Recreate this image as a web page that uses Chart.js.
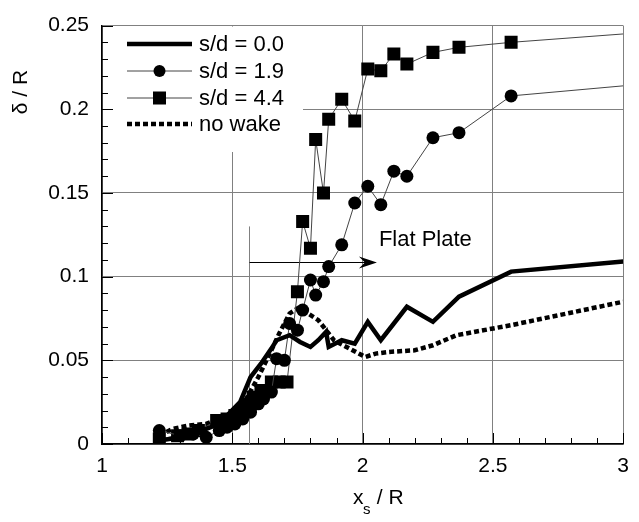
<!DOCTYPE html>
<html>
<head>
<meta charset="utf-8">
<script src="https://cdn.jsdelivr.net/npm/chart.js@4"></script>
<style>
  body { margin: 0; background: #fff; }
  canvas { display: block; }
</style>
</head>
<body>
<canvas id="bl" width="639" height="522"></canvas>
<script>
// s/d = 0.0 (thick solid line)
const sd00X = [1.22, 1.30, 1.35, 1.40, 1.45, 1.48, 1.53, 1.57, 1.61, 1.65, 1.67, 1.72, 1.76, 1.80, 1.83, 1.86, 1.87, 1.92, 1.97, 2.02, 2.07, 2.17, 2.27, 2.37, 2.57, 3.00];
const sd00Y = [0.002, 0.004, 0.006, 0.009, 0.012, 0.017, 0.025, 0.040, 0.048, 0.057, 0.062, 0.065, 0.061, 0.058, 0.062, 0.067, 0.058, 0.062, 0.060, 0.073, 0.062, 0.082, 0.073, 0.088, 0.103, 0.109];

// s/d = 1.9 (circles)
const sd19X = [1.22, 1.30, 1.35, 1.40, 1.45, 1.48, 1.51, 1.54, 1.57, 1.60, 1.62, 1.65, 1.67, 1.70, 1.72, 1.75, 1.77, 1.80, 1.82, 1.85, 1.87, 1.92, 1.97, 2.02, 2.07, 2.12, 2.17, 2.27, 2.37, 2.57, 3.00];
const sd19Y = [0.008, 0.005, 0.006, 0.004, 0.008, 0.010, 0.012, 0.015, 0.019, 0.024, 0.027, 0.031, 0.051, 0.050, 0.072, 0.068, 0.080, 0.098, 0.089, 0.097, 0.106, 0.119, 0.144, 0.154, 0.143, 0.163, 0.160, 0.183, 0.186, 0.208, 0.214];

// s/d = 4.4 (squares)
const sd44X = [1.22, 1.29, 1.33, 1.37, 1.44, 1.48, 1.51, 1.54, 1.56, 1.58, 1.61, 1.65, 1.68, 1.71, 1.75, 1.77, 1.80, 1.82, 1.85, 1.87, 1.92, 1.97, 2.02, 2.07, 2.12, 2.17, 2.27, 2.37, 2.57, 3.00];
const sd44Y = [0.003, 0.005, 0.006, 0.008, 0.014, 0.015, 0.017, 0.020, 0.023, 0.028, 0.032, 0.037, 0.037, 0.037, 0.091, 0.133, 0.117, 0.182, 0.150, 0.194, 0.206, 0.193, 0.224, 0.223, 0.233, 0.227, 0.234, 0.237, 0.240, 0.245];

// no wake (dotted)
const noWakeX = [1.22, 1.27, 1.33, 1.40, 1.45, 1.50, 1.55, 1.60, 1.65, 1.68, 1.72, 1.75, 1.79, 1.83, 1.86, 1.89, 1.95, 2.01, 2.05, 2.10, 2.20, 2.27, 2.36, 2.57, 3.00];
const noWakeY = [0.005, 0.009, 0.011, 0.012, 0.015, 0.018, 0.026, 0.040, 0.056, 0.066, 0.078, 0.081, 0.078, 0.074, 0.068, 0.062, 0.057, 0.052, 0.054, 0.055, 0.056, 0.059, 0.065, 0.071, 0.085];

const seriesLabels = ['s/d = 0.0', 's/d = 1.9', 's/d = 4.4', 'no wake'];
const xTicks = [1, 1.5, 2, 2.5, 3];
const yTicks = [0, 0.05, 0.1, 0.15, 0.2, 0.25];

// annotation in data units
const markerX = 1.565;
const markerTop = 0.13;
const arrowY = 0.1085;
const arrowEnd = 2.055;
const noteText = 'Flat Plate';
const noteY = 0.122;

const FONT = '"Liberation Sans", Arial, sans-serif';

function pts(xs, ys) {
    return xs.map((x, i) => ({ x: x, y: ys[i] }));
}

// hide the marker on the last point that just carries the line to the edge
function markerSize(r) {
    return ctx => (ctx.raw && ctx.raw.x >= 3 ? 0 : r);
}

const decor = {
    id: 'decor',
    beforeDatasetsDraw(chart) {
        const c = chart.ctx;
        const a = chart.chartArea;
        const xs = chart.scales.x, ys = chart.scales.y;
        c.save();

        // legend box
        c.fillStyle = '#fff';
        c.fillRect(a.left + 1, a.top + 1, 302 - a.left, 151 - a.top);

        // inward ticks
        c.strokeStyle = '#000';
        c.lineWidth = 1;
        c.beginPath();
        for (let i = 0; i <= 25; i++) {
            const py = Math.round(ys.getPixelForValue(i / 100)) + 0.5;
            const len = i % 5 === 0 ? 11 : 6;
            c.moveTo(a.left, py);
            c.lineTo(a.left + len, py);
        }
        for (let i = 10; i <= 30; i++) {
            const px = Math.round(xs.getPixelForValue(i / 10)) + 0.5;
            const len = i % 5 === 0 ? 11 : 6;
            c.moveTo(px, a.bottom);
            c.lineTo(px, a.bottom - len);
        }
        c.stroke();

        // vertical marker + arrow
        const mx = Math.round(xs.getPixelForValue(markerX)) + 0.5;
        c.strokeStyle = '#808080';
        c.beginPath();
        c.moveTo(mx, ys.getPixelForValue(markerTop));
        c.lineTo(mx, a.bottom);
        c.stroke();

        const ay = Math.round(ys.getPixelForValue(arrowY)) + 0.5;
        const ax = xs.getPixelForValue(arrowEnd);
        c.strokeStyle = '#000';
        c.beginPath();
        c.moveTo(mx, ay);
        c.lineTo(ax - 8, ay);
        c.stroke();
        c.fillStyle = '#000';
        c.beginPath();
        c.moveTo(ax, ay);
        c.lineTo(ax - 18, ay - 6);
        c.lineTo(ax - 12, ay);
        c.lineTo(ax - 18, ay + 6);
        c.closePath();
        c.fill();

        // legend entries
        const rows = [44, 71, 98, 124];
        const x0 = 127, x1 = 192, xm = (x0 + x1) / 2;
        c.font = '22px ' + FONT;
        c.textBaseline = 'middle';
        c.textAlign = 'left';
        rows.forEach((ry, i) => {
            const ds = chart.data.datasets[i];
            c.save();
            c.strokeStyle = ds.borderColor;
            c.lineWidth = ds.borderWidth;
            c.setLineDash(ds.borderDash || []);
            c.beginPath();
            c.moveTo(x0, ry);
            c.lineTo(x1, ry);
            c.stroke();
            c.restore();
            c.fillStyle = '#000';
            if (ds.pointStyle === 'circle') {
                c.beginPath();
                c.arc(xm, ry, 6, 0, Math.PI * 2);
                c.fill();
            } else if (ds.pointStyle === 'rect') {
                c.fillRect(xm - 6.5, ry - 6.5, 13, 13);
            }
            c.fillText(seriesLabels[i], 199, ry + 1);
        });
        c.restore();
    },
    afterDraw(chart) {
        const c = chart.ctx;
        const xs = chart.scales.x, ys = chart.scales.y;
        c.save();
        c.fillStyle = '#000';
        c.font = '22px ' + FONT;
        c.textBaseline = 'middle';
        c.textAlign = 'left';
        c.fillText(noteText, xs.getPixelForValue(arrowEnd) + 2, ys.getPixelForValue(noteY));

        // x title: x_s / R
        c.font = '21px ' + FONT;
        c.textBaseline = 'alphabetic';
        c.fillText('x', 353, 504);
        c.font = '15px ' + FONT;
        c.fillText('s', 363, 514);
        c.font = '21px ' + FONT;
        c.fillText(' / R', 371, 504);

        // y title
        c.translate(27, 92);
        c.rotate(-Math.PI / 2);
        c.textAlign = 'center';
        c.fillText('\u03b4 / R', 0, 0);
        c.restore();
    }
};

new Chart(document.getElementById('bl'), {
    type: 'line',
    data: {
        datasets: [
            {
                label: seriesLabels[0],
                data: pts(sd00X, sd00Y),
                borderColor: '#000',
                borderWidth: 4.5,
                pointRadius: 0,
                pointStyle: false,
            },
            {
                label: seriesLabels[1],
                data: pts(sd19X, sd19Y),
                borderColor: '#444',
                borderWidth: 1,
                pointStyle: 'circle',
                pointRadius: markerSize(6.5),
                backgroundColor: '#000',
                pointBorderColor: '#000',
                pointBorderWidth: 0,
            },
            {
                label: seriesLabels[2],
                data: pts(sd44X, sd44Y),
                borderColor: '#444',
                borderWidth: 1,
                pointStyle: 'rect',
                pointRadius: markerSize(9.2),
                backgroundColor: '#000',
                pointBorderColor: '#000',
                pointBorderWidth: 0,
            },
            {
                label: seriesLabels[3],
                data: pts(noWakeX, noWakeY),
                borderColor: '#000',
                borderWidth: 4.5,
                borderDash: [5, 3],
                borderCapStyle: 'butt',
                pointRadius: 0,
                pointStyle: false,
            },
        ]
    },
    options: {
        responsive: false,
        animation: false,
        layout: { padding: { top: 18, right: 7, left: 0, bottom: 0 } },
        plugins: {
            legend: { display: false },
            tooltip: { enabled: false },
        },
        scales: {
            x: {
                type: 'linear',
                min: 1,
                max: 3,
                afterBuildTicks: s => { s.ticks = xTicks.map(v => ({ value: v })); },
                afterFit: s => { s.height = 78; },
                grid: { color: '#808080', lineWidth: 1, drawTicks: false },
                border: { color: '#000', width: 1.5 },
                ticks: {
                    color: '#000',
                    padding: 10,
                    font: { family: FONT, size: 21 },
                    callback: v => String(v),
                },
            },
            y: {
                type: 'linear',
                min: 0,
                max: 0.25,
                afterBuildTicks: s => { s.ticks = yTicks.map(v => ({ value: v })); },
                afterFit: s => { s.width = 102; },
                grid: { color: '#808080', lineWidth: 1, drawTicks: false },
                border: { color: '#000', width: 1.5 },
                ticks: {
                    color: '#000',
                    padding: 13,
                    font: { family: FONT, size: 21 },
                    callback: v => String(+v.toFixed(2)),
                },
            },
        },
    },
    plugins: [decor],
});
</script>
</body>
</html>
